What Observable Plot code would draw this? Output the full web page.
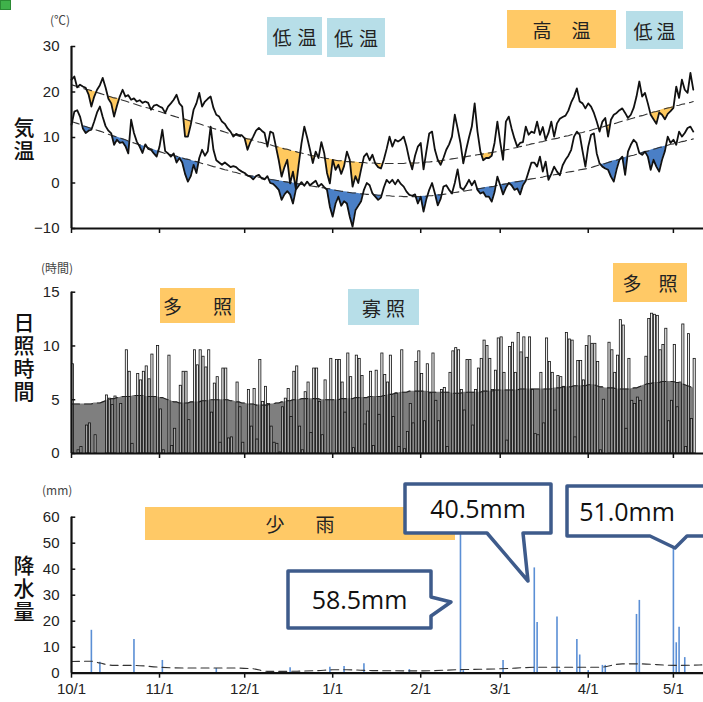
<!DOCTYPE html>
<html><head><meta charset="utf-8">
<script src="https://cdn.jsdelivr.net/npm/d3@7"></script>
<script src="https://cdn.jsdelivr.net/npm/@observablehq/plot@0.6"></script>
<style>
body{margin:0;background:#fff;}
#wrap{position:relative;width:703px;height:702px;overflow:hidden;background:#fff;font-family:"Liberation Sans",Arial,sans-serif;}
#wrap svg{position:absolute;left:0;}
.box{position:absolute;display:flex;align-items:center;justify-content:center;font-family:"Noto Sans CJK JP",sans-serif;font-size:19px;color:#222;white-space:nowrap;}
.blue{background:#b7dee8;}
.orange{background:#ffc966;}
.side{position:absolute;left:11px;width:26px;font-family:"Noto Sans CJK JP",sans-serif;font-size:21px;line-height:26px;letter-spacing:2px;writing-mode:vertical-rl;text-orientation:upright;color:#111;font-weight:500;}
.unit{position:absolute;font-family:"Noto Sans CJK JP",sans-serif;font-size:12px;color:#444;white-space:nowrap;}
.call{position:absolute;font-family:"Open Sans",sans-serif;font-size:25px;color:#111;text-align:center;white-space:nowrap;}
</style></head><body><div id="wrap"></div>
<script>
// ---- month ticks (day index from 10/1) ----
const monthTicks = [0, 31, 61, 92, 123, 151, 182, 212];
const monthLabels = ["10/1", "11/1", "12/1", "1/1", "2/1", "3/1", "4/1", "5/1"];
const tempTicks = [-10, 0, 10, 20, 30];
const sunTicks = [0, 5, 10, 15];
const rainTicks = [0, 10, 20, 30, 40, 50, 60];

// ---- daily max temperature (°C) ----
const tmax = [
22.7,23.4,21.0,21.6,21.2,20.9,19.5,16.8,19.0,20.5,
21.5,23.1,21.0,18.5,17.5,14.6,17.0,19.0,20.5,19.0,
19.3,18.3,18.6,17.9,18.2,17.6,17.9,17.6,16.1,17.0,
17.2,16.8,16.5,15.4,16.8,17.5,18.3,19.4,17.5,16.8,
10.2,10.2,12.8,16.1,17.5,19.8,16.8,17.9,18.5,19.0,
16.5,15.0,14.6,13.5,13.0,12.0,11.3,10.2,10.8,10.5,
10.5,9.8,7.3,9.0,10.2,11.5,12.1,11.5,11.0,8.0,
11.3,11.0,8.0,5.0,1.4,3.5,5.1,-0.1,2.5,-1.2,
4.0,8.7,12.4,10.0,7.3,4.4,6.9,5.5,9.0,6.6,
2.2,-0.1,5.1,2.9,4.0,2.0,3.7,6.9,5.1,-0.8,
1.5,0.0,3.0,5.8,6.5,5.0,6.2,4.3,3.5,3.2,
5.1,7.5,10.2,8.0,9.5,9.1,9.5,10.2,8.0,5.1,
3.0,6.0,8.0,8.8,3.0,7.0,10.9,11.3,7.3,5.1,
4.0,5.5,7.3,8.5,10.2,15.0,12.0,8.8,4.3,7.3,
10.0,12.4,17.5,11.3,7.0,5.0,5.5,5.5,6.0,8.8,
13.5,9.0,5.1,13.5,14.6,12.0,9.8,8.0,8.8,9.0,
12.4,10.6,11.3,11.0,13.5,10.6,12.3,9.5,11.0,13.5,
10.2,13.1,14.1,14.5,14.8,15.9,17.7,19.0,20.8,17.9,
17.5,16.4,17.5,16.8,15.4,13.5,11.3,13.5,14.3,10.2,
13.9,15.0,15.4,16.0,16.4,15.4,14.3,15.0,16.5,19.0,
22.3,19.0,19.8,17.5,15.0,14.0,13.0,15.5,15.0,14.0,
15.2,15.8,16.5,21.2,18.7,22.7,20.5,19.8,24.2,20.5];

// ---- daily min temperature (°C) ----
const tmin = [
12.8,15.7,16.0,14.6,12.0,11.0,11.5,11.7,13.5,15.5,
16.8,14.5,12.5,11.5,10.9,8.4,9.5,8.8,9.0,8.1,
6.5,13.9,11.0,9.1,8.0,6.6,8.5,7.5,7.3,6.5,
5.8,8.0,11.7,7.0,6.5,5.8,6.5,4.5,5.5,4.5,
2.0,0.3,1.5,4.0,2.2,5.5,7.3,6.0,7.0,12.4,
7.3,5.0,4.5,4.0,4.5,4.0,3.5,3.7,3.5,2.9,
2.5,2.2,1.6,1.4,0.8,1.5,1.8,1.0,0.8,1.5,
0.0,-0.2,-0.8,-1.5,-3.7,-2.5,-1.8,-2.5,-4.5,-1.5,
-0.6,0.2,-0.6,0.3,-0.5,0.0,0.5,-0.8,-0.2,-0.9,
-1.5,-5.2,-7.4,-4.5,-3.0,-5.0,-4.0,-4.5,-7.4,-9.6,
-6.0,-5.0,-4.0,-1.5,0.0,-0.5,-2.3,-3.0,-3.7,-3.2,
-1.0,0.7,0.0,0.7,-0.3,0.7,-0.2,-0.8,-1.9,-2.6,
-2.8,-2.5,-4.5,-3.0,-6.3,-3.5,-1.5,0.0,-2.3,-4.9,
-3.5,-0.8,-0.5,-1.5,-2.3,0.0,3.0,-1.0,-1.5,-0.5,
0.7,-0.5,0.5,-1.5,-2.3,-2.0,-3.0,-3.0,-4.1,-2.0,
1.4,-0.5,-2.5,-1.0,0.0,-0.5,-1.5,-1.2,-2.5,-0.5,
0.5,2.5,4.5,4.5,3.6,5.8,2.5,4.7,0.7,2.0,
3.6,2.5,1.7,3.9,5.1,6.0,7.3,10.2,11.3,10.6,
7.0,3.6,8.0,10.6,10.9,6.5,4.3,3.6,3.2,2.9,
1.4,0.3,3.0,5.1,5.8,1.8,6.9,8.4,9.5,8.8,
6.6,6.2,6.9,5.8,2.9,5.1,3.6,2.5,5.1,7.0,
10.2,8.8,9.5,8.4,11.3,10.2,11.0,12.1,12.4,11.3];

// ---- normal max temperature (°C) ----
const tmaxNormal = [
21.6,21.4,21.2,21.0,20.8,20.6,20.5,20.3,20.1,19.9,
19.7,19.5,19.3,19.1,18.9,18.7,18.6,18.4,18.2,18.0,
17.8,17.6,17.4,17.2,17.0,16.8,16.6,16.5,16.3,16.1,
15.9,15.7,15.5,15.3,15.1,14.9,14.7,14.5,14.3,14.2,
14.0,13.8,13.6,13.4,13.2,13.0,12.8,12.6,12.4,12.2,
12.0,11.8,11.6,11.4,11.2,11.0,10.8,10.7,10.5,10.3,
10.1,9.9,9.7,9.6,9.4,9.2,9.0,8.9,8.7,8.5,
8.4,8.2,8.0,7.9,7.7,7.5,7.4,7.2,7.0,6.9,
6.7,6.6,6.4,6.3,6.1,6.0,5.9,5.7,5.6,5.5,
5.4,5.3,5.1,5.0,4.9,4.9,4.8,4.7,4.7,4.6,
4.6,4.5,4.5,4.5,4.4,4.4,4.4,4.4,4.3,4.3,
4.3,4.3,4.3,4.3,4.3,4.3,4.3,4.3,4.4,4.4,
4.4,4.4,4.4,4.5,4.5,4.6,4.6,4.7,4.8,4.8,
4.9,5.0,5.1,5.2,5.3,5.4,5.5,5.6,5.7,5.8,
5.9,6.0,6.1,6.2,6.3,6.4,6.5,6.6,6.7,6.8,
6.9,7.0,7.1,7.3,7.4,7.6,7.7,7.8,8.0,8.1,
8.3,8.4,8.6,8.7,8.8,9.0,9.1,9.3,9.4,9.6,
9.7,9.8,10.0,10.1,10.3,10.4,10.6,10.7,10.8,11.0,
11.1,11.3,11.4,11.6,11.8,12.0,12.1,12.3,12.5,12.7,
12.9,13.0,13.2,13.4,13.6,13.8,13.9,14.1,14.3,14.5,
14.7,14.8,15.0,15.2,15.4,15.6,15.7,15.9,16.1,16.3,
16.5,16.6,16.8,17.0,17.1,17.3,17.4,17.6,17.7,17.9];

// ---- normal min temperature (°C) ----
const tminNormal = [
13.5,13.3,13.1,12.9,12.6,12.4,12.2,12.0,11.8,11.6,
11.4,11.2,10.9,10.7,10.5,10.3,10.1,9.9,9.7,9.5,
9.2,9.0,8.8,8.6,8.4,8.2,8.0,7.8,7.5,7.3,
7.1,6.9,6.7,6.5,6.4,6.2,6.0,5.9,5.7,5.5,
5.3,5.2,5.0,4.8,4.7,4.5,4.3,4.1,4.0,3.8,
3.6,3.5,3.3,3.1,2.9,2.8,2.6,2.4,2.3,2.1,
1.9,1.8,1.7,1.6,1.5,1.4,1.3,1.2,1.0,0.9,
0.8,0.7,0.6,0.5,0.4,0.3,0.2,0.1,0.0,-0.1,
-0.2,-0.3,-0.4,-0.5,-0.6,-0.7,-0.8,-0.9,-1.0,-1.1,
-1.2,-1.3,-1.5,-1.6,-1.7,-1.8,-1.9,-2.0,-2.1,-2.2,
-2.2,-2.3,-2.4,-2.4,-2.5,-2.5,-2.6,-2.6,-2.7,-2.7,
-2.8,-2.8,-2.8,-2.9,-2.9,-2.9,-2.9,-3.0,-3.0,-3.0,
-3.0,-3.0,-3.0,-3.0,-2.9,-2.9,-2.8,-2.8,-2.7,-2.6,
-2.6,-2.5,-2.4,-2.3,-2.2,-2.1,-2.0,-1.9,-1.8,-1.7,
-1.6,-1.5,-1.4,-1.3,-1.2,-1.1,-1.0,-0.9,-0.8,-0.7,
-0.5,-0.4,-0.3,-0.2,-0.1,0.1,0.2,0.3,0.4,0.5,
0.6,0.8,0.9,1.0,1.1,1.2,1.3,1.5,1.6,1.7,
1.8,1.9,2.0,2.2,2.3,2.4,2.5,2.6,2.7,2.9,
3.0,3.1,3.2,3.4,3.6,3.8,4.0,4.1,4.3,4.5,
4.7,4.9,5.0,5.2,5.4,5.6,5.8,6.0,6.1,6.3,
6.5,6.7,6.9,7.0,7.2,7.4,7.6,7.8,7.9,8.1,
8.3,8.5,8.6,8.8,8.9,9.1,9.2,9.4,9.5,9.7];

// ---- daily sunshine duration (hours) ----
const sunshine = [
8.3,0,0.3,0.6,0,2.6,2.8,0,1.7,0,
0,0,5.4,5.1,4.5,5.3,0,4.6,0,9.6,
7.6,0.9,0,7.4,6.8,7.6,8.1,6.9,9.2,0,
10.0,4.1,0.3,0,9.1,0.7,2.3,0,6.3,7.6,
7.6,3.1,0,9.6,8.2,9.6,9.0,8.0,9.6,3.8,
6.5,7.1,1.0,7.9,7.9,1.4,1.5,0,6.6,4.3,
1.0,0,5.9,2.5,6.0,1.3,8.7,4.8,6.2,4.6,
2.5,1.0,0.9,0.1,4.3,5.1,6.0,3.4,7.6,8.1,
2.5,0.3,5.7,6.6,1.9,7.9,7.9,4.8,1.7,6.8,
0,8.8,0,8.7,8.7,6.6,3.8,9.3,7.1,0.5,
9.1,8.8,7.2,2.7,3.9,7.6,0.7,7.7,3.6,9.3,
7.3,6.6,9.1,3.4,5.6,0.6,9.6,0.4,2.0,4.6,
2.8,8.5,9.5,7.4,3.0,8.3,5.6,9.3,4.9,3.0,
5.9,6.1,0.6,7.5,9.5,9.8,9.6,5.9,4.0,8.7,
8.7,2.6,5.9,7.9,8.8,10.5,10.0,8.8,5.9,7.7,
10.7,10.8,7.5,1.2,9.9,10.3,7.5,11.2,9.4,10.8,
8.9,10.8,5.9,1.8,1.7,7.5,2.8,10.7,8.5,7.5,
4.0,7.2,7.1,6.2,11.2,10.6,10.5,1.5,8.6,8.6,
6.8,10.0,10.9,10.2,10.2,8.5,0.3,5.0,0,10.3,
9.6,7.5,9.1,12.4,11.9,2.3,8.8,4.9,4.6,5.2,
4.9,0,9.0,12.5,13.0,12.9,12.8,9.6,10.1,11.6,
3.0,4.9,10.1,4.3,6.6,12.0,0.6,11.1,3.2,8.8];

// ---- normal sunshine duration (hours) ----
const sunshineNormal = [
4.6,4.6,4.6,4.6,4.6,4.6,4.6,4.6,4.7,4.7,
4.7,4.8,4.9,5.0,5.1,5.1,5.2,5.2,5.3,5.3,
5.3,5.3,5.4,5.4,5.4,5.4,5.3,5.3,5.3,5.3,
5.3,5.2,5.2,5.1,5.0,4.9,4.8,4.8,4.7,4.7,
4.7,4.7,4.8,4.8,4.8,4.8,4.9,4.9,4.9,5.0,
5.0,5.0,5.0,5.0,5.0,5.0,4.9,4.9,4.8,4.8,
4.7,4.7,4.6,4.6,4.6,4.5,4.5,4.5,4.5,4.5,
4.6,4.6,4.7,4.7,4.8,4.8,4.9,4.9,5.0,5.0,
5.0,5.1,5.1,5.1,5.1,5.1,5.1,5.1,5.0,5.0,
5.0,5.0,5.0,5.0,5.0,5.1,5.1,5.1,5.1,5.1,
5.2,5.2,5.2,5.2,5.2,5.3,5.3,5.3,5.3,5.3,
5.4,5.4,5.5,5.5,5.6,5.6,5.7,5.7,5.7,5.8,
5.8,5.8,5.8,5.8,5.8,5.8,5.7,5.7,5.7,5.7,
5.7,5.7,5.7,5.7,5.6,5.6,5.6,5.6,5.7,5.7,
5.7,5.7,5.7,5.7,5.7,5.8,5.8,5.8,5.8,5.9,
5.9,5.9,5.9,5.9,5.9,5.9,5.9,5.9,6.0,6.0,
6.0,6.0,6.0,6.0,6.0,6.0,6.0,6.0,6.0,6.0,
6.1,6.1,6.1,6.2,6.2,6.2,6.2,6.3,6.3,6.3,
6.3,6.3,6.4,6.4,6.4,6.3,6.2,6.2,6.1,6.1,
6.1,6.1,6.0,6.0,6.0,6.0,6.0,6.0,6.1,6.1,
6.2,6.3,6.4,6.5,6.5,6.6,6.6,6.6,6.7,6.7,
6.7,6.7,6.7,6.6,6.6,6.5,6.4,6.3,6.2,6.1];

// ---- precipitation (days with rain, mm) ----
const rainDay = [7,10,22,32,51,77,91,96,103,119,137,138,152,163,164,171,172,178,179,182,187,188,199,200,212,213,214,216];
const rainMm  = [16.5,4.2,13.0,4.9,1.8,2.1,2.3,2.6,3.6,1.4,58.5,1.0,4.9,40.5,19.5,21.6,1.0,13.0,7.0,1.0,3.0,3.0,22.6,28.0,51.0,11.7,17.7,6.0];

// ---- normal precipitation (mm/day) ----
const rainNormalDay = [0,7,10,15,22,31,40,57,64,69,75,81,87,92,97,106,123,138,151,165,177,186,194,200,212,222];
const rainNormalMm  = [4.5,4.6,3.9,3.0,3.0,2.3,2.0,2.0,1.7,0.7,0.7,0.8,1.0,1.3,1.3,1.0,0.9,1.4,1.7,2.3,2.3,2.3,3.6,3.6,3.0,3.2];

// ---- build tables ----
const rows = tmax.map((v, i) => ({d: i, tmax: v, tmin: tmin[i], nmax: tmaxNormal[i], nmin: tminNormal[i], sun: sunshine[i], snorm: sunshineNormal[i]}));
const rain = rainDay.map((d, i) => ({d, mm: rainMm[i]}));
const rainNormal = rainNormalDay.map((d, i) => ({d, mm: rainNormalMm[i]}));

const XDOM = [0, 222.6];
const AX = "#111";
const base = {width: 703, marginLeft: 71, marginRight: 0,
  style: {background: "transparent", overflow: "visible", fontFamily: "'Liberation Sans', Arial, sans-serif", fontSize: "15px", color: "#222"}};

function below(data, n, a, color) {
  if (Plot.differenceY) {
    return Plot.differenceY(data, {x: "d", y1: n, y2: a, positiveFillOpacity: 0, negativeFill: color, negativeFillOpacity: 1, fillOpacity: 1, stroke: "none"});
  }
  return Plot.areaY(data, {x: "d", y1: n, y2: r => Math.min(r[a], r[n]), fill: color});
}
function frame(ticks, ymin) {
  return [
    Plot.axisY({ticks, label: null, tickSize: 0, tickPadding: 12, fontSize: 15, fill: "#222"}),
    Plot.ruleY(ticks, {x1: 0, x2: 1.5, stroke: AX, strokeWidth: 1.5}),
    Plot.ruleX([0], {stroke: AX, strokeWidth: 2.2}),
    Plot.ruleY([ymin], {stroke: AX, strokeWidth: 2.2})
  ];
}

// ---- temperature ----
const temp = Plot.plot({...base, height: 200, marginTop: 6, marginBottom: 12,
  x: {domain: XDOM, axis: null}, y: {domain: [-10, 30], axis: null},
  marks: [
    below(rows, "nmax", "tmax", "#ffc95e"),
    below(rows, "nmin", "tmin", "#4a7fc6"),
    Plot.lineY(rows, {x: "d", y: "nmax", stroke: "#333", strokeWidth: 1.1, strokeDasharray: "8,5"}),
    Plot.lineY(rows, {x: "d", y: "nmin", stroke: "#333", strokeWidth: 1.1, strokeDasharray: "8,5"}),
    Plot.lineY(rows, {x: "d", y: "tmax", stroke: "#111", strokeWidth: 1.8, strokeLinejoin: "round"}),
    Plot.lineY(rows, {x: "d", y: "tmin", stroke: "#111", strokeWidth: 1.8, strokeLinejoin: "round"}),
    Plot.axisX({ticks: monthTicks, label: null, tickSize: 5, tickFormat: () => "", stroke: AX, strokeWidth: 1.5}),
    ...frame(tempTicks, -10)
  ]});
temp.style.top = "40px";

// ---- sunshine ----
const sun = Plot.plot({...base, height: 180, marginTop: 6.7, marginBottom: 12,
  x: {domain: XDOM, axis: null}, y: {domain: [0, 15], axis: null},
  marks: [
    Plot.areaY(rows, {x: "d", y: "snorm", fill: "#7f7f7f"}),
    Plot.rect(rows.filter(r => r.sun > 0), {x1: r => r.d + 0.12, x2: r => r.d + 0.88, y1: 0, y2: "sun", fill: "#d9d9d9", fillOpacity: 0.45, stroke: "#111", strokeWidth: 0.8}),
    Plot.lineY(rows, {x: "d", y: "snorm", stroke: "#222", strokeWidth: 1.1, strokeDasharray: "8,5"}),
    Plot.axisX({ticks: monthTicks, label: null, tickSize: 5, tickFormat: () => "", stroke: AX, strokeWidth: 1.5}),
    ...frame(sunTicks, 0)
  ]});
sun.style.top = "285px";

// ---- precipitation ----
const prec = Plot.plot({...base, height: 197, marginTop: 11.7, marginBottom: 29.3,
  x: {domain: XDOM, axis: null}, y: {domain: [0, 60], axis: null},
  marks: [
    Plot.ruleX(rain, {x: "d", y1: 0, y2: "mm", stroke: "#5b8fd5", strokeWidth: 1.6}),
    Plot.line(rainNormal, {x: "d", y: "mm", stroke: "#333", strokeWidth: 1.1, strokeDasharray: "8,5", curve: "monotone-x"}),
    Plot.axisX({ticks: monthTicks, label: null, tickSize: 5, tickPadding: 5, tickFormat: d => monthLabels[monthTicks.indexOf(d)], fontSize: 15, fill: "#222", stroke: AX, strokeWidth: 1.5}),
    ...frame(rainTicks, 0)
  ]});
prec.style.top = "505px";

const wrap = document.getElementById("wrap");
wrap.append(temp, sun, prec);

// ---- annotations ----
const boxes = [
  ["低温", "blue", 267, 17, 55, 38, 6],
  ["低温", "blue", 327, 18, 58, 39, 6],
  ["高温", "orange", 507, 10, 109, 38, 20],
  ["低温", "blue", 626, 11, 57, 38, 4],
  ["多照", "orange", 160, 288, 75, 35, 31],
  ["寡照", "blue", 348, 289, 71, 36, 5],
  ["多照", "orange", 613, 263, 74, 39, 17],
  ["少雨", "orange", 145, 507, 310, 33, 31]
];
for (const [t, c, x, y, w, h, ls] of boxes) {
  const b = document.createElement("div");
  b.className = "box " + c;
  Object.assign(b.style, {left: x + "px", top: y + "px", width: w + "px", height: h + "px", letterSpacing: ls + "px", paddingLeft: ls + "px", boxSizing: "border-box"});
  b.textContent = t;
  wrap.append(b);
}
const sides = [["気温", 117], ["日照時間", 312], ["降水量", 555]];
for (const [t, y] of sides) {
  const s = document.createElement("div");
  s.className = "side"; s.style.top = y + "px"; s.textContent = t; wrap.append(s);
}
const units = [["(℃)", 50, 11], ["(時間)", 41, 259], ["(mm)", 42, 481]];
for (const [t, x, y] of units) {
  const u = document.createElement("div");
  u.className = "unit"; u.style.left = x + "px"; u.style.top = y + "px"; u.textContent = t; wrap.append(u);
}
// green marker top-left
const g = document.createElement("div");
Object.assign(g.style, {position: "absolute", left: "0px", top: "0px", width: "9px", height: "8px", background: "#3fb24a", border: "1px solid #2b8a34"});
wrap.append(g);

// callout shapes
const ns = "http://www.w3.org/2000/svg";
const ov = document.createElementNS(ns, "svg");
ov.setAttribute("width", 703); ov.setAttribute("height", 702);
ov.style.top = "0px";
const paths = [
  "M288,571 H431 V597 L451,602 L431,616 V628 H288 Z",
  "M405,484 H551 V533 H523 L528,581 L487,533 H405 Z",
  "M567,486 H715 V536 H687 L675,548 L650,536 H567 Z"
];
for (const d of paths) {
  const p = document.createElementNS(ns, "path");
  p.setAttribute("d", d); p.setAttribute("fill", "#fff"); p.setAttribute("stroke", "#3e5b8b");
  p.setAttribute("stroke-width", "3.5"); p.setAttribute("stroke-linejoin", "round");
  ov.append(p);
}
wrap.append(ov);
const calls = [["58.5mm", 288, 571, 143, 57], ["40.5mm", 405, 484, 146, 49], ["51.0mm", 567, 486, 120, 50]];
for (const [t, x, y, w, h] of calls) {
  const c = document.createElement("div");
  c.className = "call";
  Object.assign(c.style, {left: x + "px", top: y + "px", width: w + "px", height: h + "px", lineHeight: h + "px"});
  c.textContent = t; wrap.append(c);
}
</script></body></html>
